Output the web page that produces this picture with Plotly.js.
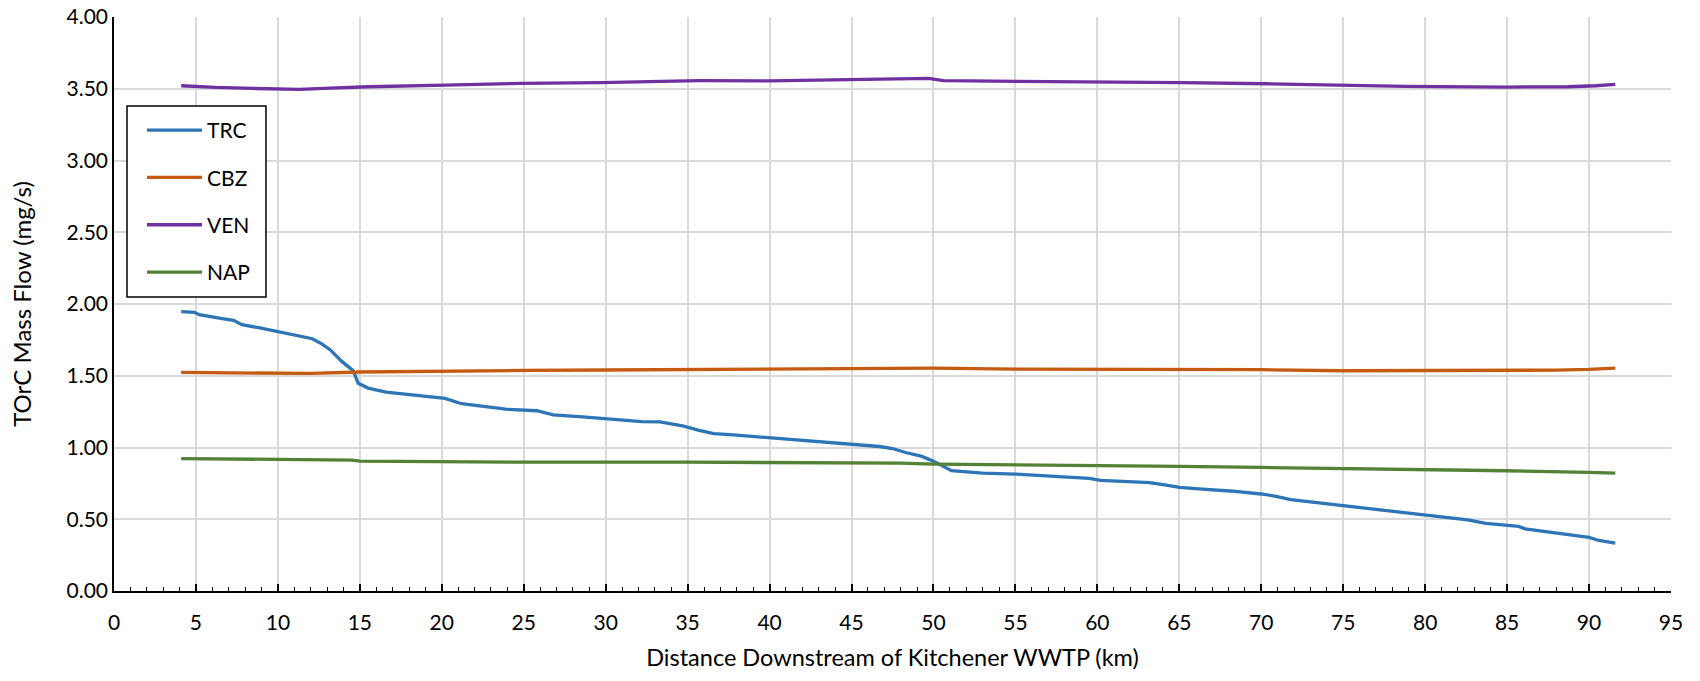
<!DOCTYPE html>
<html>
<head>
<meta charset="utf-8">
<script src="https://cdn.plot.ly/plotly-3.0.1.min.js"></script>
<style>html,body{margin:0;padding:0;background:#fff;}#chart{width:1700px;height:681px;}</style>
</head>
<body>
<div id="chart"></div>
<script>
// Distance downstream (km) and TOrC mass flow (mg/s)
const trcKm  = [4.1, 4.9, 5.2, 6.2, 6.6, 7.3, 7.8, 8.9, 10, 11.1, 12.1, 12.7, 13.2, 13.9, 14.6, 14.9, 15.5, 16.6, 17.8, 19, 20.2, 21.2, 22.5, 23.9, 25.8, 26.8, 28.6, 30.2, 31.1, 32.2, 33.3, 34.7, 35.7, 36.6, 37.8, 40, 41.3, 42.7, 44.6, 45.7, 46.7, 47.5, 48.3, 49.3, 50, 51.1, 53, 55, 57.2, 58.1, 59.5, 60.2, 61.4, 63.2, 64.3, 65, 66.4, 68.1, 70, 70.9, 71.8, 72.9, 73.9, 75, 76.5, 78.2, 79.4, 80.3, 80.9, 81.8, 82.6, 83.7, 85, 85.7, 86.1, 87.6, 88.8, 90, 90.6, 91.6];
const trcVal = [1.947, 1.942, 1.926, 1.91, 1.898, 1.886, 1.856, 1.833, 1.807, 1.786, 1.758, 1.72, 1.68, 1.60, 1.535, 1.447, 1.414, 1.386, 1.372, 1.353, 1.342, 1.305, 1.288, 1.267, 1.256, 1.228, 1.214, 1.20, 1.192, 1.18, 1.178, 1.15, 1.12, 1.097, 1.088, 1.069, 1.058, 1.044, 1.025, 1.016, 1.007, 0.993, 0.965, 0.938, 0.905, 0.838, 0.822, 0.815, 0.80, 0.79, 0.785, 0.771, 0.766, 0.755, 0.736, 0.722, 0.71, 0.697, 0.676, 0.66, 0.637, 0.623, 0.606, 0.595, 0.576, 0.55, 0.54, 0.525, 0.52, 0.505, 0.495, 0.472, 0.46, 0.45, 0.433, 0.41, 0.396, 0.373, 0.352, 0.333];

const cbzKm  = [4.1, 10, 12, 15, 20, 25, 30, 35, 40, 45, 50, 55, 60, 63, 70, 75, 80, 85, 88, 90, 91.6];
const cbzVal = [1.523, 1.519, 1.516, 1.526, 1.533, 1.537, 1.540, 1.544, 1.547, 1.551, 1.553, 1.546, 1.546, 1.546, 1.542, 1.535, 1.535, 1.535, 1.539, 1.544, 1.553];

const venKm  = [4.1, 6.2, 8.5, 11.3, 13.2, 15.5, 20.2, 24.8, 29.7, 33, 35.7, 40, 43.4, 47.6, 49.7, 50.6, 55.3, 61.7, 65.2, 70.3, 74.6, 78.8, 85, 88.7, 90.4, 91.6];
const venVal = [3.521, 3.509, 3.502, 3.495, 3.505, 3.514, 3.525, 3.537, 3.543, 3.549, 3.556, 3.555, 3.56, 3.565, 3.572, 3.556, 3.553, 3.549, 3.542, 3.535, 3.523, 3.516, 3.512, 3.514, 3.521, 3.53];

const napKm  = [4.1, 10, 13, 14.5, 15, 20, 25, 35, 45, 48, 50, 55, 60, 65, 70, 75, 80, 85, 90, 91.6];
const napVal = [0.923, 0.916, 0.914, 0.912, 0.905, 0.902, 0.898, 0.898, 0.896, 0.891, 0.884, 0.88, 0.875, 0.868, 0.861, 0.854, 0.847, 0.838, 0.826, 0.822];

const seriesNames = ['TRC', 'CBZ', 'VEN', 'NAP'];
const seriesColors = ['#2E75B6', '#C55A11', '#7030A0', '#538135'];
const xs = [trcKm, cbzKm, venKm, napKm];
const ys = [trcVal, cbzVal, venVal, napVal];

const FONT = 'Lato, "Open Sans", sans-serif';

const traces = seriesNames.map((n, i) => ({
  type: 'scatter', mode: 'lines', name: n, x: xs[i], y: ys[i],
  legendgroup: 'g' + i,
  line: {color: seriesColors[i], width: 3.3},
  hoverinfo: 'x+y+name'
}));

const layout = {
  width: 1700, height: 681,
  margin: {l: 114, r: 29, t: 17, b: 90},
  paper_bgcolor: '#ffffff', plot_bgcolor: '#ffffff',
  font: {family: FONT, size: 21, color: '#000000'},
  showlegend: true,
  legend: {
    x: 0.018, y: 0.838, xanchor: 'left', yanchor: 'top',
    bgcolor: 'rgba(0,0,0,0)', borderwidth: 0,
    font: {family: FONT, size: 21, color: '#000000'},
    tracegroupgap: 17, itemwidth: 55
  },
  shapes: [{
    type: 'rect', xref: 'paper', yref: 'paper',
    x0: 0.00835, x1: 0.0976, y0: 0.512, y1: 0.845,
    line: {color: '#000000', width: 1.5}, fillcolor: '#ffffff', layer: 'above'
  }],
  xaxis: {
    range: [0, 95], dtick: 5, tick0: 0,
    showgrid: true, gridcolor: '#d9d9d9', gridwidth: 1.5,
    showline: true, linecolor: '#000000', linewidth: 1.5,
    zeroline: false,
    ticks: 'inside', ticklen: 7, tickwidth: 1.5, tickcolor: '#000000',
    minor: {dtick: 1, ticks: 'inside', ticklen: 4, tickwidth: 1.2, tickcolor: '#000000', showgrid: false},
    ticklabelstandoff: 12,
    tickfont: {family: FONT, size: 21, color: '#000000'},
    title: {text: 'Distance Downstream of Kitchener WWTP (km)', font: {family: FONT, size: 23.5, color: '#000000'}, standoff: 17}
  },
  yaxis: {
    range: [0, 4], dtick: 0.5, tick0: 0, tickformat: '.2f',
    showgrid: true, gridcolor: '#d9d9d9', gridwidth: 1.5,
    showline: true, linecolor: '#000000', linewidth: 1.5,
    zeroline: false, ticks: '',
    tickfont: {family: FONT, size: 21, color: '#000000'},
    title: {text: 'TOrC Mass Flow (mg/s)', font: {family: FONT, size: 24, color: '#000000'}, standoff: 28}
  }
};

Plotly.newPlot('chart', traces, layout, {displayModeBar: false});
</script>
</body>
</html>
